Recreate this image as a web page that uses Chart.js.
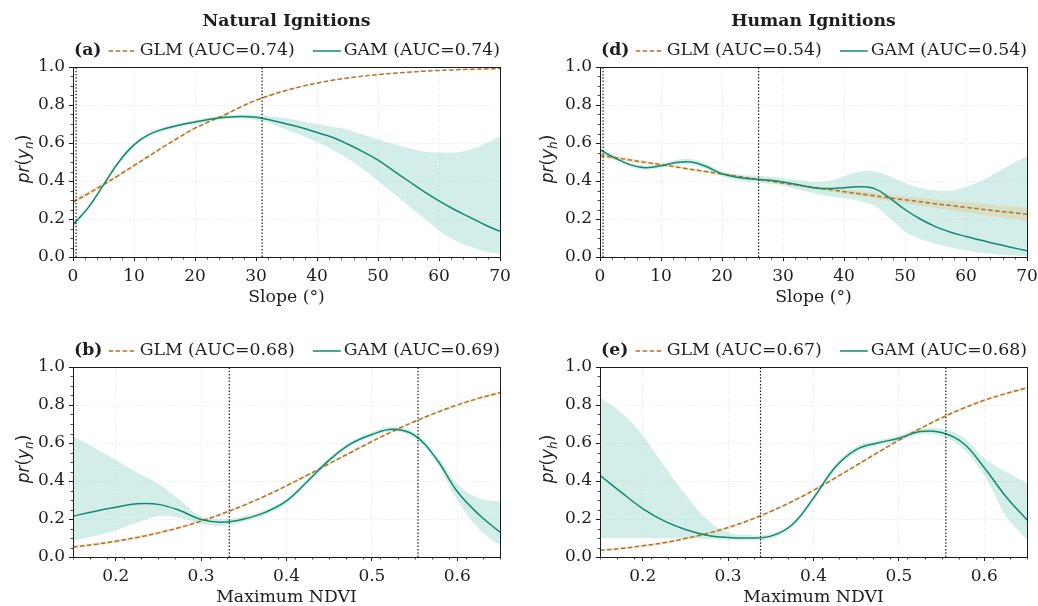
<!DOCTYPE html>
<html>
<head>
<meta charset="utf-8">
<script src="https://cdn.jsdelivr.net/npm/chart.js@4.4.1/dist/chart.umd.min.js"></script>
<style>
  html, body { margin: 0; padding: 0; background: #fff; overflow: hidden; width: 1038px; height: 606px; }
  canvas { position: absolute; }
</style>
</head>
<body>
<canvas id="panel-a" width="520" height="310" style="left:0;top:0"></canvas>
<canvas id="panel-d" width="530" height="310" style="left:524px;top:0"></canvas>
<canvas id="panel-b" width="520" height="310" style="left:0;top:300px"></canvas>
<canvas id="panel-e" width="530" height="310" style="left:524px;top:300px"></canvas>
<script>
  // ── x-Stützstellen und Achsenbeschriftungen ───────────────────────
  const slopeX = [0, 2.5, 5, 7.5, 10, 12.5, 15, 17.5, 20, 22.5, 25, 27.5, 30, 32.5, 35,
    37.5, 40, 42.5, 45, 47.5, 50, 52.5, 55, 57.5, 60, 62.5, 65, 67.5, 70];
  const ndviX = [0.15, 0.175, 0.2, 0.225, 0.25, 0.275, 0.3, 0.325, 0.35, 0.375, 0.4,
    0.425, 0.45, 0.475, 0.5, 0.525, 0.55, 0.575, 0.6, 0.625, 0.65];
  const slopeTicks = [0, 10, 20, 30, 40, 50, 60, 70];
  const ndviTicks = [0.2, 0.3, 0.4, 0.5, 0.6];
  const probTicks = [0, 0.2, 0.4, 0.6, 0.8, 1.0];

  // ── (a) natürliche Zündungen vs. Hangneigung ──
  const natSlopeGlm = [0.29, 0.334, 0.381, 0.43, 0.481, 0.532, 0.583, 0.632, 0.678, 0.715, 0.75, 0.79, 0.825, 0.853, 0.877,
    0.898, 0.915, 0.93, 0.942, 0.952, 0.96, 0.967, 0.973, 0.978, 0.982, 0.985, 0.988, 0.99, 0.992];
  const natSlopeGlmHi = [0.302, 0.345, 0.391, 0.439, 0.489, 0.539, 0.589, 0.638, 0.684, 0.721, 0.756, 0.795, 0.83, 0.858, 0.881,
    0.902, 0.918, 0.933, 0.944, 0.954, 0.962, 0.969, 0.975, 0.98, 0.984, 0.987, 0.99, 0.992, 0.994];
  const natSlopeGlmLo = [0.278, 0.323, 0.371, 0.421, 0.473, 0.525, 0.577, 0.626, 0.672, 0.709, 0.744, 0.785, 0.82, 0.848, 0.873,
    0.894, 0.912, 0.927, 0.94, 0.95, 0.958, 0.965, 0.971, 0.976, 0.98, 0.983, 0.986, 0.988, 0.99];
  const natSlopeGam = [0.17, 0.26, 0.38, 0.5, 0.59, 0.645, 0.675, 0.695, 0.71, 0.725, 0.735, 0.74, 0.735, 0.72, 0.7,
    0.68, 0.655, 0.63, 0.595, 0.555, 0.51, 0.455, 0.4, 0.345, 0.295, 0.25, 0.21, 0.17, 0.135];
  const natSlopeGamHi = [0.18, 0.27, 0.39, 0.51, 0.6, 0.655, 0.685, 0.705, 0.72, 0.735, 0.745, 0.75, 0.75, 0.74, 0.73,
    0.715, 0.7, 0.685, 0.67, 0.645, 0.62, 0.595, 0.575, 0.555, 0.55, 0.55, 0.565, 0.595, 0.635];
  const natSlopeGamLo = [0.155, 0.25, 0.37, 0.49, 0.58, 0.635, 0.665, 0.685, 0.7, 0.715, 0.725, 0.73, 0.72, 0.7, 0.67,
    0.64, 0.605, 0.565, 0.52, 0.465, 0.4, 0.335, 0.27, 0.205, 0.14, 0.09, 0.055, 0.03, 0.015];
  const natSlopeCuts = [0.5, 31];

  // ── (d) menschliche Zündungen vs. Hangneigung ──
  const humSlopeGlm = [0.535, 0.523, 0.51, 0.498, 0.486, 0.474, 0.461, 0.449, 0.437, 0.425, 0.413, 0.401, 0.389, 0.378, 0.366,
    0.355, 0.344, 0.333, 0.322, 0.311, 0.301, 0.291, 0.28, 0.271, 0.261, 0.252, 0.242, 0.234, 0.225];
  const humSlopeGlmHi = [0.547, 0.534, 0.52, 0.507, 0.495, 0.482, 0.469, 0.457, 0.445, 0.432, 0.42, 0.408, 0.396, 0.386, 0.375,
    0.365, 0.355, 0.346, 0.337, 0.328, 0.32, 0.312, 0.303, 0.296, 0.288, 0.281, 0.273, 0.267, 0.26];
  const humSlopeGlmLo = [0.523, 0.512, 0.5, 0.489, 0.477, 0.466, 0.453, 0.441, 0.429, 0.418, 0.406, 0.394, 0.382, 0.37, 0.357,
    0.345, 0.333, 0.32, 0.307, 0.294, 0.282, 0.27, 0.257, 0.246, 0.234, 0.223, 0.211, 0.201, 0.19];
  const humSlopeGam = [0.565, 0.52, 0.485, 0.47, 0.48, 0.497, 0.5, 0.475, 0.438, 0.42, 0.41, 0.405, 0.395, 0.38, 0.365,
    0.36, 0.365, 0.37, 0.36, 0.31, 0.25, 0.2, 0.16, 0.13, 0.108, 0.088, 0.068, 0.05, 0.033];
  const humSlopeGamHi = [0.58, 0.53, 0.495, 0.48, 0.49, 0.51, 0.515, 0.49, 0.451, 0.435, 0.427, 0.425, 0.415, 0.405, 0.395,
    0.4, 0.425, 0.45, 0.45, 0.425, 0.39, 0.365, 0.35, 0.35, 0.37, 0.4, 0.445, 0.49, 0.53];
  const humSlopeGamLo = [0.55, 0.51, 0.475, 0.46, 0.47, 0.485, 0.487, 0.46, 0.425, 0.405, 0.393, 0.385, 0.375, 0.355, 0.335,
    0.32, 0.31, 0.295, 0.27, 0.205, 0.135, 0.095, 0.07, 0.05, 0.035, 0.022, 0.013, 0.008, 0.005];
  const humSlopeCuts = [0.5, 26];

  // ── (b) natürliche Zündungen vs. max. NDVI ──
  const natNdviGlm = [0.053, 0.066, 0.083, 0.103, 0.127, 0.155, 0.189, 0.228, 0.272, 0.321, 0.375,
    0.432, 0.491, 0.55, 0.608, 0.663, 0.713, 0.759, 0.8, 0.835, 0.865];
  const natNdviGlmHi = [0.061, 0.074, 0.091, 0.111, 0.135, 0.163, 0.196, 0.235, 0.279, 0.328, 0.382,
    0.439, 0.498, 0.557, 0.615, 0.67, 0.72, 0.766, 0.807, 0.842, 0.872];
  const natNdviGlmLo = [0.045, 0.058, 0.075, 0.095, 0.119, 0.147, 0.182, 0.221, 0.265, 0.314, 0.368,
    0.425, 0.484, 0.543, 0.601, 0.656, 0.706, 0.752, 0.793, 0.828, 0.858];
  const natNdviGam = [0.215, 0.24, 0.262, 0.28, 0.277, 0.245, 0.197, 0.183, 0.2, 0.235, 0.295,
    0.4, 0.51, 0.595, 0.645, 0.672, 0.64, 0.52, 0.345, 0.225, 0.13];
  const natNdviGamHi = [0.635, 0.575, 0.51, 0.445, 0.385, 0.3, 0.215, 0.2, 0.215, 0.248, 0.308,
    0.413, 0.522, 0.607, 0.657, 0.685, 0.655, 0.54, 0.385, 0.31, 0.29];
  const natNdviGamLo = [0.085, 0.11, 0.14, 0.18, 0.215, 0.205, 0.175, 0.165, 0.187, 0.222, 0.282,
    0.387, 0.498, 0.583, 0.633, 0.66, 0.625, 0.5, 0.3, 0.15, 0.06];
  const natNdviCuts = [0.333, 0.554];

  // ── (e) menschliche Zündungen vs. max. NDVI ──
  const humNdviGlm = [0.035, 0.045, 0.059, 0.075, 0.097, 0.123, 0.155, 0.194, 0.24, 0.292, 0.351,
    0.415, 0.482, 0.549, 0.615, 0.676, 0.732, 0.782, 0.825, 0.86, 0.89];
  const humNdviGlmHi = [0.041, 0.051, 0.065, 0.082, 0.104, 0.13, 0.162, 0.201, 0.247, 0.299, 0.358,
    0.422, 0.489, 0.556, 0.622, 0.683, 0.739, 0.789, 0.832, 0.867, 0.897];
  const humNdviGlmLo = [0.029, 0.039, 0.053, 0.068, 0.09, 0.116, 0.148, 0.187, 0.233, 0.285, 0.344,
    0.408, 0.475, 0.542, 0.608, 0.669, 0.725, 0.775, 0.818, 0.853, 0.883];
  const humNdviGam = [0.43, 0.34, 0.255, 0.19, 0.145, 0.115, 0.103, 0.1, 0.11, 0.17, 0.31,
    0.47, 0.565, 0.6, 0.625, 0.66, 0.655, 0.6, 0.47, 0.32, 0.195];
  const humNdviGamHi = [0.84, 0.76, 0.64, 0.48, 0.33, 0.2, 0.13, 0.115, 0.122, 0.183, 0.325,
    0.485, 0.58, 0.613, 0.64, 0.675, 0.675, 0.63, 0.52, 0.45, 0.39];
  const humNdviGamLo = [0.1, 0.1, 0.1, 0.1, 0.097, 0.095, 0.09, 0.088, 0.098, 0.157, 0.295,
    0.455, 0.55, 0.587, 0.61, 0.645, 0.635, 0.57, 0.43, 0.22, 0.09];
  const humNdviCuts = [0.338, 0.555];

  // ── Stil ──────────────────────────────────────────────────────────
  const SERIF = '"DejaVu Serif", serif';
  const SANS = '"DejaVu Sans", sans-serif';
  const INK = '#1e1e1e';
  const FONT_PX = 17.3;
  const GLM_COLOR = '#b0712f';
  const GLM_BAND = 'rgba(223,194,125,0.35)';
  const GAM_COLOR = '#128a6f';
  const GAM_BAND = 'rgba(128,205,193,0.35)';

  function pts(xs, ys) {
    return xs.map((x, i) => ({ x, y: ys[i] }));
  }

  // y-Titel im Stil "pr(y_n)": kursiv, mit echtem Index
  function drawYTitle(ctx, cx, cy, sub) {
    const parts = [
      { t: 'pr', f: 'italic 17px ' + SANS, dy: 0 },
      { t: '(', f: '17px ' + SANS, dy: 0 },
      { t: 'y', f: 'italic 17px ' + SANS, dy: 0 },
      { t: sub, f: 'italic 12px ' + SANS, dy: 4 },
      { t: ')', f: '17px ' + SANS, dy: 0 }
    ];
    let total = 0;
    parts.forEach(pt => { ctx.font = pt.f; pt.w = ctx.measureText(pt.t).width; total += pt.w; });
    ctx.save();
    ctx.translate(cx, cy);
    ctx.rotate(-Math.PI / 2);
    ctx.textAlign = 'left';
    ctx.textBaseline = 'alphabetic';
    let x = -total / 2;
    parts.forEach(pt => { ctx.font = pt.f; ctx.fillText(pt.t, x, 6 + pt.dy); x += pt.w; });
    ctx.restore();
  }

  // Titel, Legende, Rahmen und Nebenstriche direkt auf die Zeichenfläche
  const panelDecor = {
    id: 'panelDecor',
    afterDraw(chart, args, o) {
      const { ctx, chartArea: a, scales } = chart;
      ctx.save();
      ctx.strokeStyle = INK;

      // Nebenstriche (nach außen)
      ctx.lineWidth = 0.8;
      ctx.beginPath();
      for (let v = o.xMin; v <= o.xMax + 1e-9; v += o.xMinor) {
        const px = Math.round(scales.x.getPixelForValue(v)) + 0.5;
        ctx.moveTo(px, a.bottom); ctx.lineTo(px, a.bottom + 2.5);
      }
      for (let v = 0; v <= 1 + 1e-9; v += 0.05) {
        const py = Math.round(scales.y.getPixelForValue(v)) + 0.5;
        ctx.moveTo(a.left, py); ctx.lineTo(a.left - 2.5, py);
      }
      ctx.stroke();

      // Rahmen
      ctx.lineWidth = 1;
      ctx.strokeRect(Math.round(a.left) + 0.5, Math.round(a.top) + 0.5,
        Math.round(a.width), Math.round(a.height));

      ctx.fillStyle = INK;
      drawYTitle(ctx, 23, (a.top + a.bottom) / 2 - 3, o.ySub);

      // Gesamttitel
      ctx.textBaseline = 'middle';
      if (o.title) {
        ctx.font = 'bold ' + FONT_PX + 'px ' + SERIF;
        ctx.textAlign = 'center';
        ctx.fillText(o.title, (a.left + a.right) / 2, a.top - 45);
      }

      // Legende: Buchstabe links, Einträge rechtsbündig
      const y = a.top - 16;
      ctx.textAlign = 'left';
      ctx.font = 'bold ' + FONT_PX + 'px ' + SERIF;
      ctx.fillText(o.letter, a.left + 1, y);
      ctx.font = FONT_PX + 'px ' + SERIF;
      const gamTxt = 'GAM (AUC=' + o.aucGam + ')';
      const glmTxt = 'GLM (AUC=' + o.aucGlm + ')';
      let x = a.right - ctx.measureText(gamTxt).width;
      ctx.fillText(gamTxt, x, y);
      ctx.lineWidth = 1.5;
      ctx.strokeStyle = GAM_COLOR;
      ctx.beginPath(); ctx.moveTo(x - 31, y); ctx.lineTo(x - 3, y); ctx.stroke();
      x -= 31 + 18 + ctx.measureText(glmTxt).width;
      ctx.fillText(glmTxt, x, y);
      ctx.strokeStyle = GLM_COLOR;
      ctx.setLineDash([4.5, 2.5]);
      ctx.beginPath(); ctx.moveTo(x - 31, y); ctx.lineTo(x - 3, y); ctx.stroke();
      ctx.restore();
    }
  };

  function makePanel(id, p) {
    const band = (ys, fill, color, order) => ({
      data: pts(p.xs, ys), fill, backgroundColor: color,
      borderColor: 'rgba(0,0,0,0)', borderWidth: 1, pointRadius: 0, order
    });
    const cut = (v) => ({
      data: [{ x: v, y: 0 }, { x: v, y: 1 }], borderColor: INK, borderWidth: 1.2,
      borderDash: [1.5, 1.8], pointRadius: 0, fill: false, tension: 0, order: 0
    });
    const axisTicks = (list) => (s) => { s.ticks = list.map(v => ({ value: v })); };
    const tickFont = { family: SERIF, size: 17 };

    new Chart(document.getElementById(id), {
      type: 'line',
      data: {
        datasets: [
          band(p.gamHi, '+1', GAM_BAND, 6),
          band(p.gamLo, false, 'rgba(0,0,0,0)', 6),
          band(p.glmHi, '+1', GLM_BAND, 5),
          band(p.glmLo, false, 'rgba(0,0,0,0)', 5),
          { data: pts(p.xs, p.glm), borderColor: GLM_COLOR, borderWidth: 1.5, borderDash: [4.5, 2.5],
            pointRadius: 0, fill: false, order: 3 },
          { data: pts(p.xs, p.gam), borderColor: GAM_COLOR, borderWidth: 1.5,
            pointRadius: 0, fill: false, order: 2 },
          cut(p.cuts[0]),
          cut(p.cuts[1])
        ]
      },
      options: {
        responsive: false,
        animation: false,
        devicePixelRatio: 1,
        elements: { line: { tension: 0.4 } },
        layout: { padding: { left: 10, top: 67, right: p.padRight, bottom: 0 } },
        plugins: {
          legend: { display: false },
          tooltip: { enabled: false },
          panelDecor: {
            title: p.title, letter: p.letter, aucGlm: p.aucGlm, aucGam: p.aucGam, ySub: p.ySub,
            xMin: p.xMin, xMax: p.xMax, xMinor: p.xMinor
          }
        },
        scales: {
          x: {
            type: 'linear', min: p.xMin, max: p.xMax,
            afterBuildTicks: axisTicks(p.xTicks),
            afterFit: (s) => { s.height = 53; },
            border: { display: false, dash: [1.5, 2] },
            grid: { color: 'rgba(0,0,0,0.08)', tickColor: INK, tickLength: 4, tickWidth: 1 },
            ticks: {
              autoSkip: false, maxRotation: 0, padding: 5, color: INK,
              font: tickFont,
              callback: (v) => p.xFmt(v)
            },
            title: {
              display: true, text: p.xTitle, color: INK,
              font: { family: SERIF, size: FONT_PX }, padding: { top: 0, bottom: 2 }
            }
          },
          y: {
            type: 'linear', min: 0, max: 1,
            afterBuildTicks: axisTicks(probTicks),
            afterFit: (s) => { s.width = p.yWidth; },
            border: { display: false, dash: [1.5, 2] },
            grid: { color: 'rgba(0,0,0,0.08)', tickColor: INK, tickLength: 4, tickWidth: 1 },
            ticks: {
              autoSkip: false, padding: 4, color: INK,
              font: tickFont,
              callback: (v) => v.toFixed(1)
            },
            title: { display: false }
          }
        }
      },
      plugins: [panelDecor]
    });
  }

  const slopeAxis = {
    xs: slopeX, xMin: 0, xMax: 70, xTicks: slopeTicks, xMinor: 2,
    xTitle: 'Slope (°)', xFmt: (v) => String(v)
  };
  const ndviAxis = {
    xs: ndviX, xMin: 0.15, xMax: 0.65, xTicks: ndviTicks, xMinor: 0.02,
    xTitle: 'Maximum NDVI', xFmt: (v) => v.toFixed(1)
  };
  const leftCol = { yWidth: 63, padRight: 20 };
  const rightCol = { yWidth: 66, padRight: 27 };

  makePanel('panel-a', Object.assign({}, slopeAxis, leftCol, {
    title: 'Natural Ignitions', letter: '(a)', aucGlm: '0.74', aucGam: '0.74', ySub: 'n',
    glm: natSlopeGlm, glmHi: natSlopeGlmHi, glmLo: natSlopeGlmLo,
    gam: natSlopeGam, gamHi: natSlopeGamHi, gamLo: natSlopeGamLo, cuts: natSlopeCuts
  }));
  makePanel('panel-d', Object.assign({}, slopeAxis, rightCol, {
    title: 'Human Ignitions', letter: '(d)', aucGlm: '0.54', aucGam: '0.54', ySub: 'h',
    glm: humSlopeGlm, glmHi: humSlopeGlmHi, glmLo: humSlopeGlmLo,
    gam: humSlopeGam, gamHi: humSlopeGamHi, gamLo: humSlopeGamLo, cuts: humSlopeCuts
  }));
  makePanel('panel-b', Object.assign({}, ndviAxis, leftCol, {
    title: null, letter: '(b)', aucGlm: '0.68', aucGam: '0.69', ySub: 'n',
    glm: natNdviGlm, glmHi: natNdviGlmHi, glmLo: natNdviGlmLo,
    gam: natNdviGam, gamHi: natNdviGamHi, gamLo: natNdviGamLo, cuts: natNdviCuts
  }));
  makePanel('panel-e', Object.assign({}, ndviAxis, rightCol, {
    title: null, letter: '(e)', aucGlm: '0.67', aucGam: '0.68', ySub: 'h',
    glm: humNdviGlm, glmHi: humNdviGlmHi, glmLo: humNdviGlmLo,
    gam: humNdviGam, gamHi: humNdviGamHi, gamLo: humNdviGamLo, cuts: humNdviCuts
  }));
</script>
</body>
</html>
